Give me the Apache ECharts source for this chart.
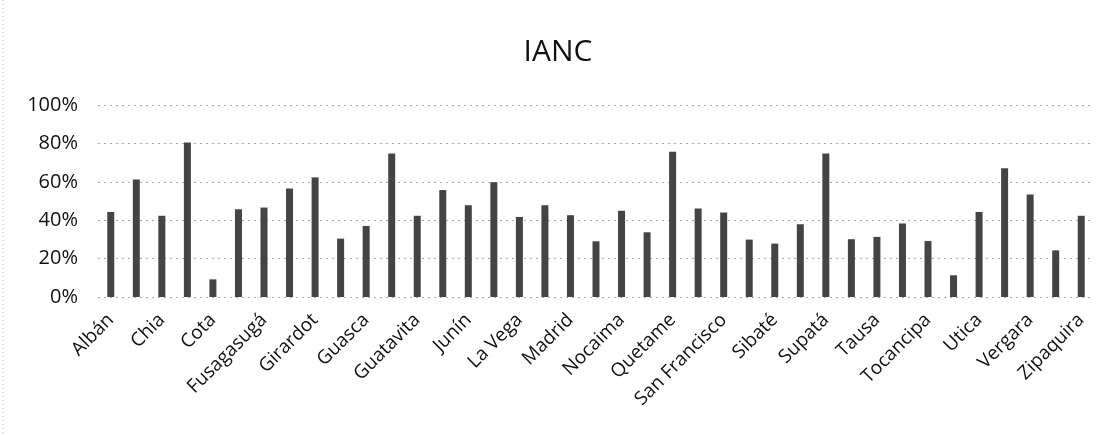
<!DOCTYPE html>
<html>
<head>
<meta charset="utf-8">
<script src="https://cdn.jsdelivr.net/npm/echarts@6/dist/echarts.min.js"></script>
<style>
html,body{margin:0;padding:0;background:#fff;}
#chart{width:1116px;height:435px;}
</style>
</head>
<body>
<div id="chart"></div>
<script>
const categories = ["Albán","Cajicá","Chia","Cogua","Cota","Facatativá","Fusagasugá","Gachetá","Girardot","Guaduas","Guasca","Guataquí","Guatavita","Jerusalén","Junín","La Mesa","La Vega","Machetá","Madrid","Mosquera","Nocaima","Pacho","Quetame","Ricaurte","San Francisco","Sesquilé","Sibaté","Soacha","Supatá","Tabio","Tausa","Tenjo","Tocancipa","Ubaté","Utica","Venecia","Vergara","Villeta","Zipaquira"];
const ianc = [44.3,61.2,42.3,80.5,9.2,45.7,46.6,56.5,62.3,30.4,37.0,74.8,42.3,55.7,47.8,59.8,41.7,47.8,42.6,29.0,44.9,33.7,75.7,46.1,44.0,29.9,27.8,37.9,74.8,30.1,31.3,38.3,29.2,11.3,44.3,67.0,53.4,24.3,42.3];
const yTicks = [0,20,40,60,80,100];

const chart = echarts.init(document.getElementById('chart'), null, {renderer:'canvas'});
chart.setOption({
  animation:false,
  backgroundColor:'#ffffff',
  title:{text:'IANC', left:'center', top:32, textStyle:{fontFamily:'Open Sans', fontSize:30, fontWeight:'normal', color:'#111'}},
  grid:{left:98, right:22, top:105, bottom:138},
  xAxis:{
    type:'category', data:categories,
    axisLine:{show:false}, axisTick:{show:false},
    axisLabel:{interval:1, rotate:45, fontFamily:'Open Sans', fontSize:19, color:'#111', margin:20}
  },
  yAxis:{
    type:'value', min:yTicks[0], max:yTicks[yTicks.length-1], interval:20,
    axisLine:{show:false}, axisTick:{show:false},
    axisLabel:{formatter:v=>v+'%', fontFamily:'Open Sans', fontSize:20, color:'#111', margin:20},
    splitLine:{lineStyle:{type:[2,4], color:'#aaa', width:1}}
  },
  series:[{type:'bar', data:ianc, barWidth:7, itemStyle:{color:'#444'}}],
  graphic:[{type:'line', shape:{x1:3,y1:0,x2:3,y2:435}, style:{stroke:'#bbb', lineDash:[1,3], lineWidth:1}}]
});
</script>
</body>
</html>
